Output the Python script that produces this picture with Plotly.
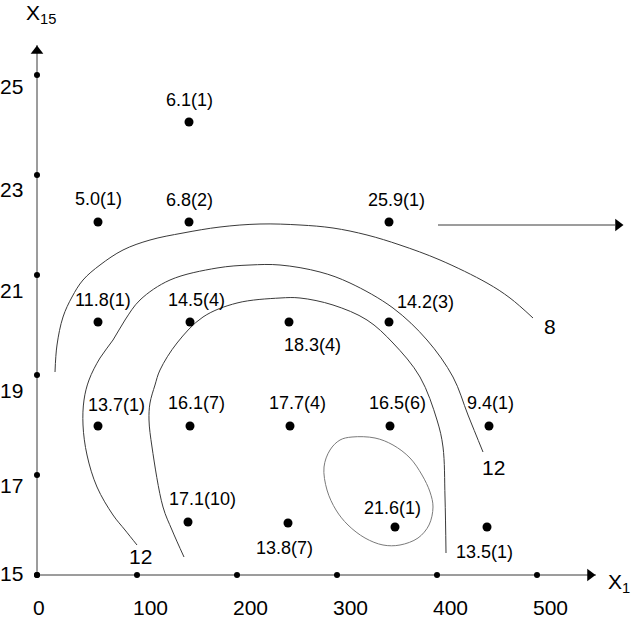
import plotly.graph_objects as go

# ---- data ----
pt_x = [152, 61, 152, 352, 61, 153, 252, 352, 61, 153, 253, 353, 452, 151, 251, 358, 450]
pt_y = [24.06, 22.06, 22.06, 22.06, 20.06, 20.06, 20.06, 20.06,
        17.98, 17.98, 17.98, 17.98, 17.98, 16.06, 16.04, 15.96, 15.96]
pt_labels = ["6.1(1)", "5.0(1)", "6.8(2)", "25.9(1)", "11.8(1)", "14.5(4)", "18.3(4)", "14.2(3)",
             "13.7(1)", "16.1(7)", "17.7(4)", "16.5(6)", "9.4(1)", "17.1(10)", "13.8(7)", "21.6(1)", "13.5(1)"]

x_ticks = [0, 100, 200, 300, 400, 500]
y_ticks = [15, 17, 19, 21, 23, 25]

c8_x = [18, 20, 26, 35, 46, 63, 86, 113, 146, 183, 223, 263, 296, 330, 363, 403, 450, 473, 496]
c8_y = [19.06, 19.6, 20.16, 20.56, 20.9, 21.2, 21.5, 21.7, 21.84, 21.96, 22.02, 22.0, 21.94,
        21.8, 21.6, 21.3, 20.84, 20.54, 20.14]

c12_x = [100, 88, 76, 60, 50, 46, 47, 52, 63, 76, 88, 103, 133, 180, 213, 243, 283, 313, 356,
         390, 416, 431, 446]
c12_y = [15.6, 15.9, 16.2, 16.76, 17.4, 18.0, 18.5, 18.9, 19.34, 19.7, 20.1, 20.5, 20.9, 21.14,
         21.2, 21.2, 21.06, 20.84, 20.34, 19.7, 18.96, 18.2, 17.46]

c16_x = [147, 135, 126, 115, 112, 113, 118, 123, 140, 166, 200, 243, 263, 296, 330, 356, 383,
         400, 406, 408, 409]
c16_y = [15.36, 15.9, 16.36, 17.56, 18.1, 18.44, 18.8, 19.1, 19.64, 20.16, 20.44, 20.54, 20.54,
         20.4, 20.1, 19.64, 18.96, 18.1, 17.56, 16.56, 15.44]

loop_x = [315, 338, 356, 373, 385, 393, 396, 392, 381, 363, 346, 328, 311, 299, 290, 287, 293, 303, 315]
loop_y = [17.76, 17.74, 17.6, 17.34, 17.0, 16.66, 16.36, 16.0, 15.74, 15.6, 15.6, 15.74, 16.0,
          16.3, 16.7, 17.16, 17.5, 17.7, 17.76]

contour_labels = ["8", "12", "12"]
contour_lab_x = [513, 456, 103]
contour_lab_y = [19.98, 17.16, 15.38]

# ---- style ----
FONT = "Liberation Sans, Arial, sans-serif"
LINE = "#3a3a3a"
# label offsets (px) relative to each dot
lab_dx = [0, 0, 0, 7, 5, 6, 23, 36, 18, 6, 7, 7, 1, 14, -4, -3, -3]
lab_dy = [22, 23, 22, 22, 22, 22, -23, 20, 21, 23, 23, 23, 23, 23, -25, 19, -25]
ytick_shift = [2, -10, -15, -15, -14, -11]

fig = go.Figure()

# axes lines
fig.add_trace(go.Scatter(x=[0, 559], y=[15, 15], mode="lines",
                         line=dict(color=LINE, width=1), hoverinfo="skip"))
fig.add_trace(go.Scatter(x=[0, 0], y=[15, 25.6], mode="lines",
                         line=dict(color=LINE, width=1), hoverinfo="skip"))
# arrow heads
fig.add_trace(go.Scatter(x=[553, 581], y=[15, 22.0], mode="markers",
                         marker=dict(symbol="triangle-right", size=11, color="black"),
                         hoverinfo="skip"))
fig.add_trace(go.Scatter(x=[0], y=[25.48], mode="markers",
                         marker=dict(symbol="triangle-up", size=11, color="black"),
                         hoverinfo="skip"))
# right arrow line
fig.add_trace(go.Scatter(x=[401, 578], y=[22.0, 22.0], mode="lines",
                         line=dict(color=LINE, width=1), hoverinfo="skip"))

# tick dots
fig.add_trace(go.Scatter(x=x_ticks, y=[15] * len(x_ticks), mode="markers",
                         marker=dict(size=6, color="black"), hoverinfo="skip"))
fig.add_trace(go.Scatter(x=[0] * len(y_ticks), y=y_ticks, mode="markers",
                         marker=dict(size=6, color="black"), hoverinfo="skip"))

# contour curves
for cx, cy, col in [(c8_x, c8_y, LINE), (c12_x, c12_y, LINE), (c16_x, c16_y, LINE),
                    (loop_x, loop_y, "#7a7a7a")]:
    fig.add_trace(go.Scatter(x=cx, y=cy, mode="lines",
                             line=dict(color=col, width=1, shape="spline", smoothing=1.0),
                             hoverinfo="skip"))

# data points
fig.add_trace(go.Scatter(x=pt_x, y=pt_y, mode="markers",
                         marker=dict(size=9, color="black"), hoverinfo="skip"))

ann = []
for x, y, t, dx, dy in zip(pt_x, pt_y, pt_labels, lab_dx, lab_dy):
    ann.append(dict(x=x, y=y, text=t, showarrow=False, xshift=dx, yshift=dy,
                    xanchor="center", yanchor="middle",
                    font=dict(family=FONT, size=18, color="black")))
for t, x, y in zip(contour_labels, contour_lab_x, contour_lab_y):
    ann.append(dict(x=x, y=y, text=t, showarrow=False, xanchor="center", yanchor="middle",
                    font=dict(family=FONT, size=21, color="black")))
for v in x_ticks:
    ann.append(dict(x=v, y=15, text=str(v), showarrow=False, xanchor="left", yanchor="middle",
                    xshift=-5, yshift=-32, borderpad=0,
                    font=dict(family=FONT, size=21, color="black")))
for v, s in zip(y_ticks, ytick_shift):
    ann.append(dict(x=0, y=v, text=str(v), showarrow=False, xanchor="right", yanchor="middle",
                    xshift=-12, yshift=s, font=dict(family=FONT, size=21, color="black")))
ann.append(dict(x=-12, y=26.5, text="X<sub>15</sub>", showarrow=False, xanchor="left",
                yanchor="top", borderpad=0, font=dict(family=FONT, size=21, color="black")))
ann.append(dict(x=569, y=14.84, text="X<sub>1</sub>", showarrow=False, xanchor="left",
                yanchor="middle", font=dict(family=FONT, size=21, color="black")))

fig.update_layout(
    width=633, height=619,
    margin=dict(l=0, r=0, t=0, b=0),
    paper_bgcolor="white", plot_bgcolor="white",
    showlegend=False,
    xaxis=dict(range=[-37, 596], visible=False, fixedrange=True),
    yaxis=dict(range=[14.12, 26.5], visible=False, fixedrange=True),
    annotations=ann,
)

fig.write_html(
    "out.html",
    config={"displayModeBar": False},
    post_script="document.body.style.margin='0';document.body.style.overflow='hidden';"
                "document.documentElement.style.overflow='hidden';",
)
